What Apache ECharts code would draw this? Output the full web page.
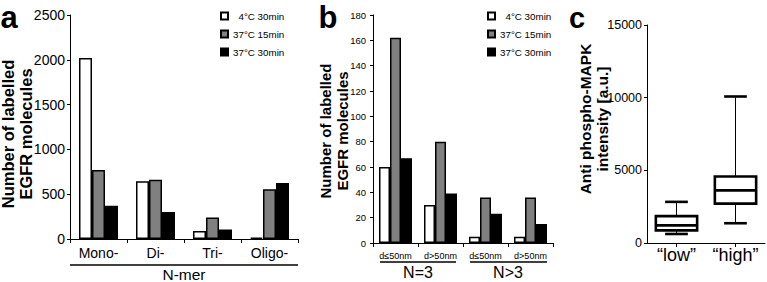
<!DOCTYPE html>
<html>
<head>
<meta charset="utf-8">
<script src="https://cdn.jsdelivr.net/npm/echarts@6/dist/echarts.min.js"></script>
<style>
  html, body { margin: 0; padding: 0; background: #fff; }
  #chart { width: 767px; height: 282px; }
</style>
</head>
<body>
<div id="chart"></div>
<script>
// panel a: number of labelled EGFR molecules per N-mer
const nmerCats = ['Mono-', 'Di-', 'Tri-', 'Oligo-'];
const nmer4C30 = [2020, 645, 90, 15];
const nmer37C15 = [770, 660, 240, 555];
const nmer37C30 = [370, 300, 105, 625];

// panel b: distances inside clusters
const distCats = ['d≤50nm', 'd>50nm', 'd≤50nm', 'd>50nm'];
const groupLabels = ['N=3', 'N>3'];
const dist4C30 = [60, 30, 5, 5];
const dist37C15 = [162, 80, 36, 36];
const dist37C30 = [67, 39, 23, 15];

// panel c: box plot [min, q1, median, q3, max]
const boxCats = ['“low”', '“high”'];
const boxLow = [620, 870, 1210, 1850, 2830];
const boxHigh = [1360, 2710, 3620, 4580, 10080];

const legendNames = ['4°C 30min', '37°C 15min', '37°C 30min'];
const barColors = ['#ffffff', '#808080', '#000000'];

const FONT = '"Liberation Sans", Arial, sans-serif';
const NARROW = '"Liberation Sans Narrow", "Liberation Sans", Arial, sans-serif';

const chart = echarts.init(document.getElementById('chart'), null, { renderer: 'svg' });

function yAxisBase (gridIndex, max, interval, fontSize, family, margin) {
  return {
    type: 'value',
    gridIndex: gridIndex,
    min: 0,
    max: max,
    interval: interval,
    axisLine: { show: true, lineStyle: { color: '#000', width: 1 } },
    axisTick: { show: true, length: 3, lineStyle: { color: '#000' } },
    axisLabel: { color: '#000', fontSize: fontSize, fontFamily: family, margin: margin, formatter: v => String(v) },
    splitLine: { show: false }
  };
}

function xAxisBase (gridIndex, data, fontSize, family, margin, alignWithLabel) {
  return {
    type: 'category',
    gridIndex: gridIndex,
    data: data,
    axisLine: { lineStyle: { color: '#000', width: 1 } },
    axisTick: { show: true, length: 4, interval: 0, alignWithLabel: alignWithLabel, lineStyle: { color: '#000' } },
    axisLabel: { color: '#000', fontSize: fontSize, fontFamily: family, margin: margin, interval: 0 }
  };
}

function barSeries (axisIndex, values, idx, width) {
  return {
    name: legendNames[idx],
    type: 'bar',
    xAxisIndex: axisIndex,
    yAxisIndex: axisIndex,
    barWidth: width,
    barGap: '0%',
    itemStyle: { color: barColors[idx], borderColor: '#000', borderWidth: 1.5 },
    data: values
  };
}

function legendAt (left) {
  return {
    data: legendNames,
    orient: 'vertical',
    left: left,
    top: 10,
    padding: 0,
    itemWidth: 7,
    itemHeight: 7,
    itemGap: 6,
    icon: 'rect',
    formatter: name => (name.length < 10 ? '  ' + name : name),
    textStyle: { fontSize: 9.8, fontFamily: FONT, color: '#000', lineHeight: 12 }
  };
}

function titleText (text, x, y, size, lineHeight, rotate) {
  return {
    type: 'text',
    x: x,
    y: y,
    rotation: rotate ? Math.PI / 2 : 0,
    style: {
      text: text,
      font: 'bold ' + size + 'px ' + FONT,
      fill: '#000',
      align: 'center',
      verticalAlign: 'middle',
      lineHeight: lineHeight
    }
  };
}

function plainText (text, x, y, size) {
  return {
    type: 'text',
    x: x,
    y: y,
    style: {
      text: text,
      font: size + 'px ' + FONT,
      fill: '#000',
      align: 'center',
      verticalAlign: 'middle'
    }
  };
}

function hLine (x1, x2, y) {
  return { type: 'line', shape: { x1: x1, y1: y, x2: x2, y2: y }, style: { stroke: '#000', lineWidth: 1.3 } };
}

function renderBox (params, api) {
  const idx = api.value(0);
  const band = api.size([1, 0])[0];
  const half = band * 0.35;
  const cap = half * 0.55;
  const pts = [1, 2, 3, 4, 5].map(i => api.coord([idx, api.value(i)]));
  const x = pts[0][0];
  const yMin = pts[0][1], yQ1 = pts[1][1], yMed = pts[2][1], yQ3 = pts[3][1], yMax = pts[4][1];
  const thick = { stroke: '#000', lineWidth: 2.6 };
  return {
    type: 'group',
    children: [
      { type: 'line', shape: { x1: x, y1: yMax, x2: x, y2: yQ3 }, style: { stroke: '#000', lineWidth: 1 } },
      { type: 'line', shape: { x1: x, y1: yQ1, x2: x, y2: yMin }, style: { stroke: '#000', lineWidth: 1 } },
      { type: 'rect', shape: { x: x - half, y: yQ3, width: half * 2, height: yQ1 - yQ3 }, style: { fill: '#fff', stroke: '#000', lineWidth: 2.6 } },
      { type: 'line', shape: { x1: x - half, y1: yMed, x2: x + half, y2: yMed }, style: thick },
      { type: 'line', shape: { x1: x - cap, y1: yMax, x2: x + cap, y2: yMax }, style: thick },
      { type: 'line', shape: { x1: x - cap, y1: yMin, x2: x + cap, y2: yMin }, style: thick }
    ]
  };
}

const boxData = [boxLow, boxHigh].map((v, i) => [i].concat(v));

chart.setOption({
  backgroundColor: '#fff',
  animation: false,
  textStyle: { fontFamily: FONT },
  legend: [legendAt(220), legendAt(487)],
  grid: [
    { left: 70, top: 15, width: 228, height: 224 },
    { left: 373, top: 15, width: 180, height: 228 },
    { left: 647, top: 25, width: 118, height: 218 }
  ],
  xAxis: [
    xAxisBase(0, nmerCats, 14, FONT, 7, false),
    xAxisBase(1, distCats, 9, NARROW, 8, false),
    xAxisBase(2, boxCats, 18, FONT, 3, true)
  ],
  yAxis: [
    yAxisBase(0, 2500, 500, 14, FONT, 5),
    yAxisBase(1, 180, 20, 9.5, NARROW, 7),
    yAxisBase(2, 15000, 5000, 12.5, FONT, 5)
  ],
  series: [
    barSeries(0, nmer4C30, 0, 13),
    barSeries(0, nmer37C15, 1, 13),
    barSeries(0, nmer37C30, 2, 13),
    barSeries(1, dist4C30, 0, 11),
    barSeries(1, dist37C15, 1, 11),
    barSeries(1, dist37C30, 2, 11),
    {
      name: 'box',
      type: 'custom',
      xAxisIndex: 2,
      yAxisIndex: 2,
      renderItem: renderBox,
      encode: { x: 0, y: [1, 2, 3, 4, 5] },
      data: boxData
    }
  ],
  graphic: [
    titleText('a', 9, 17, 31, 31, false),
    titleText('b', 328, 17, 31, 31, false),
    titleText('c', 577, 18, 29, 29, false),
    titleText('Number of labelled\nEGFR molecules', 17, 134, 16.5, 18, true),
    titleText('Number of labelled\nEGFR molecules', 334, 131, 15, 17, true),
    titleText('Anti phospho-MAPK\nintensity [a.u.]', 594, 119, 15.5, 17, true),
    hLine(70, 298, 265),
    plainText('N-mer', 184, 274, 15.5),
    hLine(380, 456, 262),
    hLine(470, 547, 262),
    plainText(groupLabels[0], 418, 272, 16),
    plainText(groupLabels[1], 508, 272, 16)
  ]
});
</script>
</body>
</html>
